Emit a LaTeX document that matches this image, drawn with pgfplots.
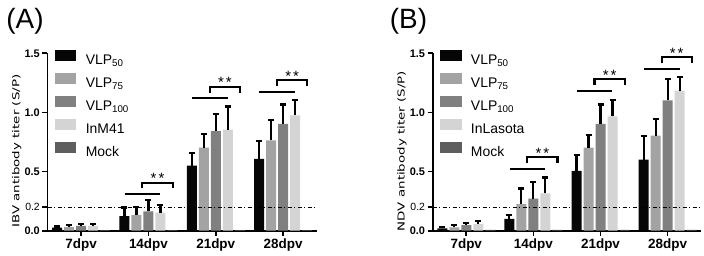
\documentclass[border=0pt]{standalone}
\usepackage{fontspec}
\setmainfont{Liberation Sans}
\newfontfamily\djv{DejaVu Sans}
\usepackage{pgfplots}
\pgfplotsset{compat=1.18}
\definecolor{c50}{HTML}{060606}
\definecolor{c75}{HTML}{A3A3A3}
\definecolor{c100}{HTML}{808080}
\definecolor{cin}{HTML}{D4D4D4}
\definecolor{cmock}{HTML}{5E5E5E}
\newcommand{\stars}{\fontsize{15}{16}\selectfont *\hspace{2bp}*}
\newcommand{\lbtwo}{{\fontsize{10.5}{12}\selectfont\mdseries 0.2}}
\pgfplotsset{
  barlegend/.style={legend image code/.code={\fill[##1] (0bp,-0.9bp) rectangle (21.7bp,10.8bp);}},
  panel/.style={
    scale only axis, height=177.4bp,
    xmin=-0.5, xmax=3.5, ymin=0, ymax=1.5,
    ybar=2bp, bar width=10bp,
    axis lines*=left, axis line style={line width=1.8bp, -},
    every tick/.style={black, line width=1.6bp},
    tick align=outside, major tick length=5bp,
    xtick={0,1,2,3}, xticklabels={7dpv,14dpv,21dpv,28dpv},
    ytick={0,0.2,0.5,1,1.5}, yticklabels={0.0,\lbtwo,0.5,1.0,1.5},
    xticklabel style={font=\fontsize{13.5}{15}\selectfont\bfseries},
    yticklabel style={font=\fontsize{11}{12}\selectfont\bfseries, inner sep=2.5bp},
    /pgf/number format/assume math mode=true,
    clip=false,
    error bars/y dir=plus, error bars/y explicit,
    error bars/error bar style={black, line width=2.2bp, solid},
    error bars/error mark options={rotate=90, black, line width=2.2bp, mark size=3bp},
    ylabel style={font=\djv\fontsize{9.6}{11}\selectfont, at={(axis description cs:-0.1145,0.449)}, anchor=center},
    legend style={at={(rel axis cs:0.027,1.0203)}, anchor=north west, draw=none, fill=none,
      inner sep=0pt, outer sep=0pt, row sep=5.2bp, column sep=9.3bp,
      nodes={inner sep=0pt, text height=11bp, text depth=3bp, font=\fontsize{14}{16}\selectfont}},
    legend cell align=left,
  }
}
\begin{document}
\begin{tikzpicture}
\path[use as bounding box] (0,0) rectangle (704bp,256bp);
\node[font=\fontsize{28}{30}\selectfont] at (25bp,234.5bp) {(A)};
\node[font=\fontsize{28}{30}\selectfont] at (408.5bp,234.5bp) {(B)};
% Panel A
\begin{axis}[panel, at={(47.5bp,25.3bp)}, anchor=south west, width=269.2bp,
  ylabel={\scalebox{1.4}[1]{IBV antibody titer (S/P)}}]
\addplot[fill=c50, draw=none, barlegend] coordinates {(0,0.025) +- (0,0.010) (1,0.124) +- (0,0.073) (2,0.550) +- (0,0.107) (3,0.607) +- (0,0.151)};
\addlegendentry{VLP\textsubscript{50}}
\addplot[fill=c75, draw=none, barlegend] coordinates {(0,0.030) +- (0,0.018) (1,0.132) +- (0,0.068) (2,0.702) +- (0,0.118) (3,0.764) +- (0,0.174)};
\addlegendentry{VLP\textsubscript{75}}
\addplot[fill=c100, draw=none, barlegend] coordinates {(0,0.040) +- (0,0.016) (1,0.163) +- (0,0.095) (2,0.843) +- (0,0.146) (3,0.904) +- (0,0.163)};
\addlegendentry{VLP\textsubscript{100}}
\addplot[fill=cin, draw=none, barlegend] coordinates {(0,0.040) +- (0,0.016) (1,0.152) +- (0,0.067) (2,0.854) +- (0,0.196) (3,0.975) +- (0,0.132)};
\addlegendentry{InM41}
\addplot[fill=cmock, draw=none, barlegend, error bars/y dir=none] coordinates {(0,0.004) (1,0.004) (2,0.004) (3,0.004)};
\addlegendentry{Mock}
\draw[line width=0.9bp, dash pattern=on 4bp off 2.5bp on 1bp off 2.5bp] (axis cs:-0.5,0.2) -- (axis cs:3.5,0.2);
% significance
\draw[line width=2.2bp] (axis cs:0.645,0.309) -- (axis cs:1.178,0.309);
\draw[line width=2.2bp] (axis cs:0.91,0.357) -- (axis cs:0.91,0.404) -- (axis cs:1.36,0.404) -- (axis cs:1.36,0.357);
\node[anchor=base] at (axis cs:1.135,0.400) {\stars};
\draw[line width=2.2bp] (axis cs:1.645,1.119) -- (axis cs:2.178,1.119);
\draw[line width=2.2bp] (axis cs:1.91,1.161) -- (axis cs:1.91,1.212) -- (axis cs:2.36,1.212) -- (axis cs:2.36,1.161);
\node[anchor=base] at (axis cs:2.135,1.210) {\stars};
\draw[line width=2.2bp] (axis cs:2.645,1.172) -- (axis cs:3.178,1.172);
\draw[line width=2.2bp] (axis cs:2.91,1.223) -- (axis cs:2.91,1.274) -- (axis cs:3.36,1.274) -- (axis cs:3.36,1.223);
\node[anchor=base] at (axis cs:3.135,1.260) {\stars};
\end{axis}
% Panel B
\begin{axis}[panel, at={(432.7bp,25.3bp)}, anchor=south west, width=268.5bp,
  ylabel={\scalebox{1.4}[1]{NDV antibody titer (S/P)}}]
\addplot[fill=c50, draw=none, barlegend] coordinates {(0,0.020) +- (0,0.008) (1,0.100) +- (0,0.032) (2,0.506) +- (0,0.132) (3,0.601) +- (0,0.197)};
\addlegendentry{VLP\textsubscript{50}}
\addplot[fill=c75, draw=none, barlegend] coordinates {(0,0.028) +- (0,0.020) (1,0.225) +- (0,0.132) (2,0.702) +- (0,0.104) (3,0.803) +- (0,0.144)};
\addlegendentry{VLP\textsubscript{75}}
\addplot[fill=c100, draw=none, barlegend] coordinates {(0,0.048) +- (0,0.019) (1,0.272) +- (0,0.141) (2,0.904) +- (0,0.163) (3,1.101) +- (0,0.183)};
\addlegendentry{VLP\textsubscript{100}}
\addplot[fill=cin, draw=none, barlegend] coordinates {(0,0.056) +- (0,0.028) (1,0.315) +- (0,0.134) (2,0.966) +- (0,0.141) (3,1.185) +- (0,0.113)};
\addlegendentry{InLasota}
\addplot[fill=cmock, draw=none, barlegend, error bars/y dir=none] coordinates {(0,0.007) (1,0.007) (2,0.007) (3,0.007)};
\addlegendentry{Mock}
\draw[line width=0.9bp, dash pattern=on 4bp off 2.5bp on 1bp off 2.5bp] (axis cs:-0.5,0.2) -- (axis cs:3.5,0.2);
\draw[line width=2.2bp] (axis cs:0.645,0.519) -- (axis cs:1.178,0.519);
\draw[line width=2.2bp] (axis cs:0.91,0.570) -- (axis cs:0.91,0.626) -- (axis cs:1.36,0.626) -- (axis cs:1.36,0.570);
\node[anchor=base] at (axis cs:1.135,0.612) {\stars};
\draw[line width=2.2bp] (axis cs:1.645,1.181) -- (axis cs:2.178,1.181);
\draw[line width=2.2bp] (axis cs:1.91,1.232) -- (axis cs:1.91,1.282) -- (axis cs:2.36,1.282) -- (axis cs:2.36,1.232);
\node[anchor=base] at (axis cs:2.135,1.274) {\stars};
\draw[line width=2.2bp] (axis cs:2.645,1.364) -- (axis cs:3.178,1.364);
\draw[line width=2.2bp] (axis cs:2.91,1.415) -- (axis cs:2.91,1.466) -- (axis cs:3.36,1.466) -- (axis cs:3.36,1.415);
\node[anchor=base] at (axis cs:3.135,1.460) {\stars};
\end{axis}
\end{tikzpicture}
\end{document}
